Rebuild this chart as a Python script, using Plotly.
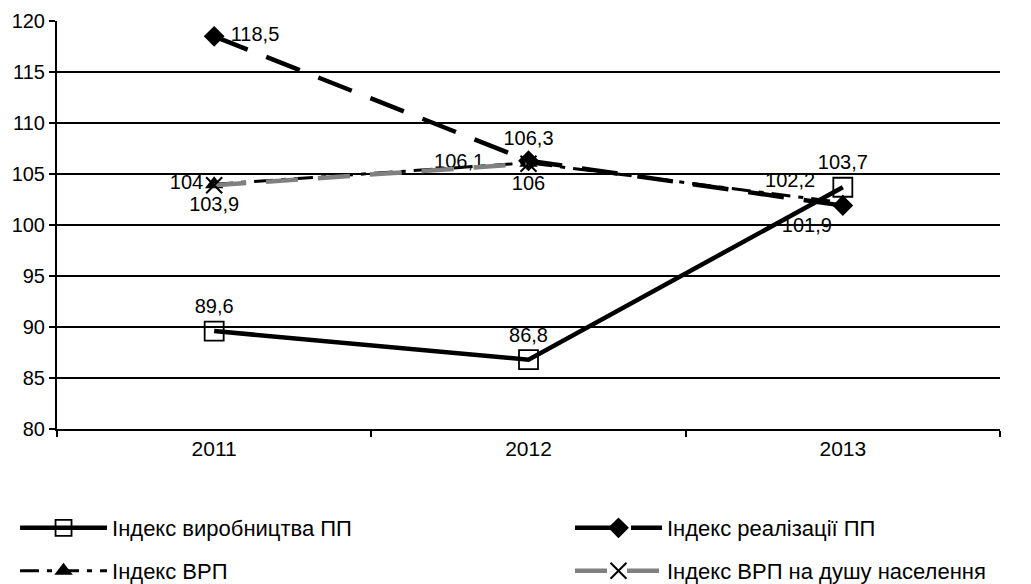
import plotly.graph_objects as go

years = ["2011", "2012", "2013"]
vyrobnytstva = [89.6, 86.8, 103.7]
realizatsii = [118.5, 106.3, 101.9]
vrp = [104, 106.1, 102.2]
vrp_dushu = [103.9, 106, None]

def lbl(vals, pad=None, lead=None):
    out = []
    for i, v in enumerate(vals):
        s = "" if v is None else f"{v:g}".replace(".", ",")
        if pad and pad[i]:
            s = s + "\u00a0" * pad[i]
        if lead and lead[i]:
            s = "\u00a0" * lead[i] + s
        out.append(s)
    return out

FONT = "Liberation Sans, Arial, sans-serif"
LBL = dict(size=20, color="black", family=FONT)
fig = go.Figure()

fig.add_trace(go.Scatter(
    x=years, y=vyrobnytstva, name="Індекс виробництва ПП",
    mode="lines+markers+text", text=lbl(vyrobnytstva),
    textposition=["top center", "top center", "top center"],
    line=dict(color="black", width=4.5),
    marker=dict(symbol="square-open", size=19, color="black", line=dict(width=1.8, color="black")),
    textfont=LBL, legend="legend"))

fig.add_trace(go.Scatter(
    x=years, y=realizatsii, name="Індекс реалізації ПП",
    mode="lines+markers+text", text=lbl(realizatsii, lead=[1, 0, 0]),
    textposition=["middle right", "top center", "bottom left"],
    line=dict(color="black", width=4.5, dash="36px,20px"),
    marker=dict(symbol="diamond", size=16, color="black"),
    textfont=LBL, legend="legend2"))

fig.add_trace(go.Scatter(
    x=years, y=vrp, name="Індекс ВРП",
    mode="lines+markers+text", text=lbl(vrp, pad=[0, 6, 3]),
    textposition=["middle left", "middle left", "top left"],
    line=dict(color="black", width=3, dash="19px,8px,5px,8px"),
    marker=dict(symbol="triangle-up", size=16, color="black"),
    textfont=LBL, legend="legend3"))

fig.add_trace(go.Scatter(
    x=years, y=vrp_dushu, name="Індекс ВРП на душу населення",
    mode="lines+markers+text", text=lbl(vrp_dushu),
    textposition=["bottom center", "bottom center", "bottom center"],
    line=dict(color="#808080", width=4.5, dash="32px,20px"),
    marker=dict(symbol="x-thin", size=16, color="black", line=dict(width=2, color="black")),
    textfont=LBL, legend="legend4"))

def leg(x, y):
    return dict(orientation="h", x=x, xanchor="left", y=y, yanchor="middle",
                font=dict(size=22, family=FONT), itemwidth=87, bgcolor="rgba(0,0,0,0)")

fig.update_layout(
    width=1031, height=584,
    margin=dict(l=49, r=39, t=13, b=163, autoexpand=False),
    paper_bgcolor="white", plot_bgcolor="white",
    font=dict(family=FONT, size=19, color="black"),
    xaxis=dict(type="category", range=[-0.5, 2.5], tickson="boundaries",
               ticks="outside", ticklen=6, tickwidth=2, tickcolor="black",
               showline=True, linecolor="black", linewidth=2, showgrid=False,
               tickfont=dict(size=21)),
    yaxis=dict(range=[80, 120], dtick=5, ticks="outside", ticklen=6, tickwidth=2,
               tickcolor="black", showline=True, linecolor="black", linewidth=2,
               showgrid=True, gridcolor="black", gridwidth=2, zeroline=False,
               tickfont=dict(size=20)),
    legend=leg(-0.0445, -0.2426),
    legend2=leg(0.544, -0.2426),
    legend3=leg(-0.0445, -0.348),
    legend4=leg(0.544, -0.348),
    showlegend=True,
)

fig.write_html("out.html")
